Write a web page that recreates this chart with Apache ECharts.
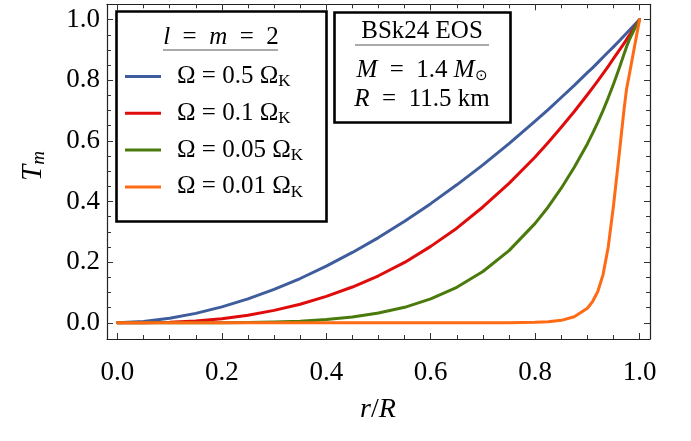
<!DOCTYPE html>
<html>
<head>
<meta charset="utf-8">
<script src="https://cdn.jsdelivr.net/npm/echarts@6/dist/echarts.min.js"></script>
<style>html,body{margin:0;padding:0;background:#fff}#c{width:691px;height:441px}</style>
</head>
<body>
<div id="c"></div>
<script>
// ---- data ----
const xs = [0,0.05,0.1,0.15,0.2,0.25,0.3,0.35,0.4,0.45,0.5,0.55,0.6,0.65,0.7,0.75,0.8,0.825,0.85,0.875,0.9,0.91,0.92,0.93,0.94,0.95,0.96,0.97,0.975,0.98,0.99,1.0];
const tBlue   = [0,0.0042,0.0148,0.031,0.0526,0.079,0.110,0.146,0.187,0.232,0.281,0.335,0.393,0.455,0.521,0.591,0.665,0.703,0.743,0.783,0.825,0.841,0.858,0.876,0.893,0.910,0.928,0.946,0.955,0.964,0.982,1.0];
const tRed    = [0,0.0003,0.002,0.006,0.013,0.025,0.041,0.061,0.087,0.118,0.155,0.199,0.252,0.312,0.382,0.46,0.547,0.595,0.645,0.697,0.752,0.775,0.798,0.822,0.846,0.871,0.896,0.921,0.934,0.947,0.973,1.0];
const tGreen  = [0,0,0.00001,0.0001,0.0003,0.001,0.0024,0.0053,0.0105,0.019,0.032,0.051,0.079,0.117,0.169,0.238,0.328,0.382,0.444,0.513,0.59,0.625,0.661,0.70,0.742,0.787,0.835,0.885,0.91,0.932,0.968,1.0];
const tOrange = [0,0,0,0,0,0,0,0,0,0,0,0,0,0,0,0.0003,0.0015,0.0035,0.008,0.02,0.048,0.07,0.103,0.158,0.25,0.385,0.54,0.70,0.77,0.815,0.908,1.0];
const omegaFactors = ['0.5','0.1','0.05','0.01'];
const seriesValues = [tBlue, tRed, tGreen, tOrange];
const majorTicks = [0,0.2,0.4,0.6,0.8,1.0];
const minorTicks = [0.05,0.1,0.15,0.25,0.3,0.35,0.45,0.5,0.55,0.65,0.7,0.75,0.85,0.9,0.95];

// ---- styles / layout ----
const colors = ['#3f5d9c','#e00b0b','#4b7a0c','#ff6a14'];
const FF = 'Liberation Serif';
const EN = '\u2002';
const X_RANGE = [-0.02, 1.02];
const Y_RANGE = [-0.0535, 1.0505];
const gridBox = {left: 107, right: 41, top: 4.3, bottom: 102};

const seriesNames = omegaFactors.map(f => 'Ω = ' + f + ' Ω_K');

function mkAxis(kind, gridIndex, position, ticks, len, withLine, withLabel) {
  const r = kind === 'x' ? X_RANGE : Y_RANGE;
  const ax = {
    type: 'value', gridIndex, position, min: r[0], max: r[1],
    splitLine: {show:false},
    axisLine: {show: withLine, onZero:false, lineStyle:{color:'#222', width:1.2}},
    axisTick: {show:true, inside:true, length:len, customValues: ticks, lineStyle:{color:'#333', width:1}},
    axisLabel: {show:false}
  };
  if (withLabel) {
    ax.axisLabel = {show:true, customValues: majorTicks, fontFamily:FF, fontSize:27, color:'#000',
      margin: kind === 'x' ? 20 : 7, formatter: v => (+v).toFixed(1)};
  }
  return ax;
}

const chart = echarts.init(document.getElementById('c'), null, {renderer:'canvas'});
chart.setOption({
  animation: false,
  backgroundColor: '#fff',
  grid: [Object.assign({}, gridBox), Object.assign({}, gridBox)],
  xAxis: [
    mkAxis('x', 0, 'bottom', majorTicks, 6, true, true),
    mkAxis('x', 0, 'top', majorTicks, 6, true, false),
    mkAxis('x', 1, 'bottom', minorTicks, 4, false, false),
    mkAxis('x', 1, 'top', minorTicks, 4, false, false)
  ],
  yAxis: [
    mkAxis('y', 0, 'left', majorTicks, 6, true, true),
    mkAxis('y', 0, 'right', majorTicks, 6, true, false),
    mkAxis('y', 1, 'left', minorTicks, 4, false, false),
    mkAxis('y', 1, 'right', minorTicks, 4, false, false)
  ],
  legend: {
    orient: 'vertical', left: 125, top: 64, padding: 0,
    itemWidth: 36, itemHeight: 3, itemGap: 10.3, icon: 'rect',
    selectedMode: false,
    data: seriesNames,
    formatter: name => {
      const i = seriesNames.indexOf(name);
      return '{t|Ω = ' + omegaFactors[i] + ' Ω}{s|K}';
    },
    textStyle: {
      rich: {
        t: {fontFamily:FF, fontSize:25, lineHeight:28, color:'#000', padding:[0,0,0,11]},
        s: {fontFamily:FF, fontSize:17, lineHeight:17, color:'#000', verticalAlign:'bottom'}
      }
    }
  },
  series: seriesValues.map((vals, i) => ({
    name: seriesNames[i],
    type: 'line',
    xAxisIndex: 0, yAxisIndex: 0,
    data: xs.map((x, j) => [x, vals[j]]),
    showSymbol: false, symbol: 'none',
    smooth: false,
    clip: false,
    lineStyle: {color: colors[i], width: 3, join: 'round', cap: 'round'},
    itemStyle: {color: colors[i]},
    z: 2 + i
  })),
  graphic: [
    // legend box
    {type:'rect', shape:{x:116.5, y:11.5, width:210, height:210}, style:{fill:'#fff', stroke:'#000', lineWidth:2.6}, z:0},
    {type:'text', x:221, y:37, style:{
      text:'{i|l}{n|' + EN + '=' + EN + '}{i|m}{n|' + EN + '=' + EN + '2}',
      align:'center', verticalAlign:'middle',
      rich:{i:{fontFamily:FF, fontStyle:'italic', fontSize:25, fill:'#000'}, n:{fontFamily:FF, fontSize:25, fill:'#000'}}
    }, z:5},
    {type:'line', shape:{x1:163, y1:50, x2:278, y2:50}, style:{stroke:'#555', lineWidth:1}, z:5},
    // annotation box
    {type:'rect', shape:{x:334.5, y:12.5, width:176, height:110}, style:{fill:'#fff', stroke:'#000', lineWidth:2.6}, z:0},
    {type:'text', x:422, y:31, style:{text:'BSk24 EOS', align:'center', verticalAlign:'middle', fontFamily:FF, fontSize:25, fill:'#000'}, z:5},
    {type:'line', shape:{x1:355, y1:45, x2:489, y2:45}, style:{stroke:'#555', lineWidth:1}, z:5},
    {type:'text', x:422, y:70, style:{
      text:'{i|M}{n|' + EN + '=' + EN + '1.4 }{i|M}{s|⊙}',
      align:'center', verticalAlign:'middle',
      rich:{i:{fontFamily:FF, fontStyle:'italic', fontSize:25, fill:'#000', lineHeight:28},
            n:{fontFamily:FF, fontSize:25, fill:'#000', lineHeight:28},
            s:{fontFamily:FF, fontSize:15, fill:'#000', lineHeight:15, verticalAlign:'bottom'}}
    }, z:5},
    {type:'text', x:422, y:99, style:{
      text:'{i|R}{n|' + EN + '=' + EN + '11.5 km}',
      align:'center', verticalAlign:'middle',
      rich:{i:{fontFamily:FF, fontStyle:'italic', fontSize:25, fill:'#000'}, n:{fontFamily:FF, fontSize:25, fill:'#000'}}
    }, z:5},
    // axis titles
    {type:'text', x:378, y:410, style:{
      text:'{i|r}{n|/}{i|R}', align:'center', verticalAlign:'middle',
      rich:{i:{fontFamily:FF, fontStyle:'italic', fontSize:28, fill:'#000'}, n:{fontFamily:FF, fontSize:28, fill:'#000'}}
    }, z:5},
    {type:'text', x:33, y:166, rotation:Math.PI/2, style:{
      text:'{i|T}{s|m}', align:'center', verticalAlign:'middle',
      rich:{i:{fontFamily:FF, fontStyle:'italic', fontSize:29, fill:'#000', lineHeight:30},
            s:{fontFamily:FF, fontStyle:'italic', fontSize:19, fill:'#000', lineHeight:19, verticalAlign:'bottom'}}
    }, z:5}
  ]
});
</script>
</body>
</html>
